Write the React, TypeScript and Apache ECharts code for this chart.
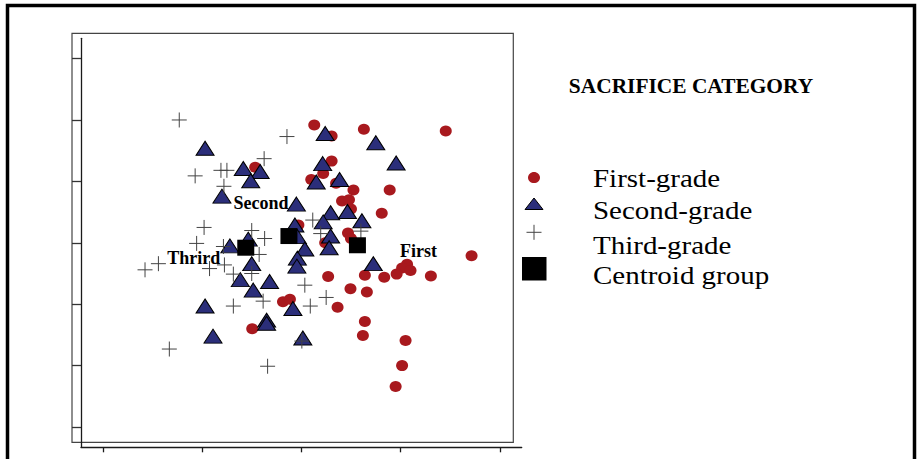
import React, { useEffect, useRef } from "react";
import * as echarts from "echarts";

// ---- data (discriminant function scores) ----
const firstGrade: [number, number][] = [
  [0.26, 1.92], [0.61, 1.74], [1.26, 1.85], [2.91, 1.82], [0.61, 1.33],
  [-0.93, 1.23], [0.44, 1.13], [0.2, 1.03], [0.7, 0.97], [1.05, 0.86],
  [1.78, 0.86], [0.82, 0.68], [0.96, 0.7], [1.0, 0.55], [1.62, 0.48],
  [-0.06, 0.29], [0.94, 0.16], [1.0, 0.07], [0.48, 0.0], [3.43, -0.21],
  [2.13, -0.35], [2.03, -0.41], [2.2, -0.45], [1.92, -0.51], [0.54, -0.55],
  [1.28, -0.53], [1.67, -0.56], [2.61, -0.54], [0.99, -0.75], [1.32, -0.8],
  [-0.37, -0.96], [-0.23, -0.92], [0.73, -1.05], [-0.99, -1.4], [1.28, -1.28],
  [1.24, -1.51], [2.1, -1.59], [2.03, -2.0], [1.9, -2.34],
];

const secondGrade: [number, number][] = [
  [-1.94, 1.54], [0.48, 1.78], [1.5, 1.63], [1.91, 1.3], [0.43, 1.29],
  [-1.17, 1.21], [-0.83, 1.16], [-1.02, 1.01], [0.3, 0.99], [0.77, 1.03],
  [-1.6, 0.76], [-0.1, 0.63], [0.59, 0.49], [0.93, 0.51], [1.22, 0.36],
  [0.44, 0.34], [-0.13, 0.29], [-0.08, 0.1], [0.59, 0.11], [0.56, -0.08],
  [0.07, -0.1], [-0.08, -0.25], [-0.09, -0.38], [1.45, -0.34], [-1.44, -0.05],
  [-1.07, 0.06], [-1.0, -0.34], [-1.23, -0.6], [-0.64, -0.63], [-0.97, -0.77],
  [-1.94, -1.03], [-0.17, -1.07], [-0.7, -1.26], [-0.7, -1.31], [-1.78, -1.52],
  [0.03, -1.55],
];

const thirdGrade: [number, number][] = [
  [-2.46, 2.0], [-0.29, 1.73], [-0.75, 1.37], [-2.14, 1.09], [-1.62, 1.18],
  [-1.5, 1.18], [-1.56, 0.92], [-1.96, 0.25], [-2.11, -0.01], [-1.0, 0.2],
  [-0.74, 0.07], [0.23, 0.37], [0.39, 0.15], [1.2, 0.19], [-3.15, -0.44],
  [-2.88, -0.34], [-1.85, -0.42], [-1.55, -0.36], [-1.37, -0.51], [-1.0, -0.5],
  [-0.85, -0.19], [-1.57, -0.06], [-1.37, -1.03], [-0.77, -0.95], [0.07, -0.69],
  [0.5, -0.89], [0.18, -1.03], [0.01, -1.6], [-2.66, -1.73], [-0.68, -2.01],
];

const centroidNames = ["Thrird", "Second", "First"];
const centroids: [number, number][] = [
  [-1.12, -0.08], [-0.25, 0.11], [1.13, -0.04],
];

const xTicks = [-4, -2, 0, 2, 4];
const yTicks = [-3, -2, -1, 0, 1, 2, 3];

const legendTitle = "SACRIFICE CATEGORY";
const legendNames = ["First-grade", "Second-grade", "Third-grade", "Centroid group"];

// ---- styles ----
const RED = "#a8191e";
const NAVY = "#2b2e7a";
const SERIF = "'Liberation Serif', 'Times New Roman', serif";
const labelOffsets: [number, number][] = [[-52, 10], [-28, -33], [61, 6]];

export default function App() {
  const ref = useRef<HTMLDivElement>(null);

  useEffect(() => {
    if (!ref.current) return;
    const chart = echarts.init(ref.current, undefined, { renderer: "svg" });

    const axisLine = { show: true, onZero: false, lineStyle: { color: "#1a1a1a", width: 1.3 } };

    const legendY = [177.9, 210.5, 245.2, 275.2];

    const option: any = {
      animation: false,
      backgroundColor: "#ffffff",
      grid: { left: 81, right: 399.3, top: 38.3, bottom: 11.7, containLabel: false },
      xAxis: {
        type: "value",
        min: -4.44,
        max: 4.44,
        axisLine,
        axisTick: { show: true, customValues: xTicks, length: 5, lineStyle: { color: "#1a1a1a", width: 1.3 } },
        axisLabel: { show: false },
        splitLine: { show: false },
      },
      yAxis: {
        type: "value",
        min: -3.33,
        max: 3.33,
        axisLine,
        axisTick: { show: true, customValues: yTicks, length: 9, lineStyle: { color: "#333", width: 1.3 } },
        axisLabel: { show: false },
        splitLine: { show: false },
      },
      series: [
        {
          name: legendNames[0],
          type: "scatter",
          symbol: "circle",
          symbolSize: [12, 11],
          itemStyle: { color: RED, opacity: 1 },
          data: firstGrade,
          silent: true,
        },
        {
          name: legendNames[1],
          type: "scatter",
          symbol: "triangle",
          symbolSize: [18, 14],
          itemStyle: { color: NAVY, borderColor: "#000", borderWidth: 1, opacity: 1 },
          data: secondGrade,
          silent: true,
        },
        {
          name: legendNames[2],
          type: "scatter",
          symbol: "path://M0,8L16,8M8,0L8,16",
          symbolSize: 15,
          itemStyle: { color: "rgba(0,0,0,0)", borderColor: "#444", borderWidth: 1, opacity: 1 },
          data: thirdGrade,
          silent: true,
        },
        {
          name: legendNames[3],
          type: "scatter",
          symbol: "rect",
          symbolSize: [17, 16],
          itemStyle: { color: "#000", opacity: 1 },
          silent: true,
          label: {
            show: true,
            position: "inside",
            formatter: (p: any) => p.name,
            fontFamily: SERIF,
            fontWeight: "bold",
            fontSize: 18,
            color: "#000",
          },
          data: centroids.map((c, i) => ({
            value: c,
            name: centroidNames[i],
            label: { offset: labelOffsets[i] },
          })),
        },
      ],
      graphic: [
        {
          type: "rect",
          z: 0,
          shape: { x: 7.5, y: 5.5, width: 907, height: 520 },
          style: { fill: "none", stroke: "#000", lineWidth: 3.5 },
          silent: true,
        },
        {
          type: "rect",
          z: 0,
          shape: { x: 72, y: 33.3, width: 441.3, height: 409 },
          style: { fill: "none", stroke: "#444", lineWidth: 1.2 },
          silent: true,
        },
        {
          type: "text",
          x: 691,
          y: 86.2,
          style: {
            text: legendTitle,
            font: `bold 21.4px ${SERIF}`,
            fill: "#000",
            align: "center",
            verticalAlign: "middle",
          },
        },
        {
          type: "ellipse",
          shape: { cx: 534, cy: 177.5, rx: 6, ry: 5.6 },
          style: { fill: RED },
        },
        {
          type: "polygon",
          shape: { points: [[525, 209.5], [543, 209.5], [534, 198]] },
          style: { fill: NAVY, stroke: "#000", lineWidth: 1 },
        },
        {
          type: "line",
          shape: { x1: 526.5, y1: 232.3, x2: 541.5, y2: 232.3 },
          style: { stroke: "#444", lineWidth: 1 },
        },
        {
          type: "line",
          shape: { x1: 534, y1: 224.8, x2: 534, y2: 239.8 },
          style: { stroke: "#444", lineWidth: 1 },
        },
        {
          type: "rect",
          shape: { x: 522, y: 257, width: 24.5, height: 23.5 },
          style: { fill: "#000" },
        },
        ...legendNames.map((n, i) => ({
          type: "text",
          x: 593,
          y: legendY[i],
          scaleX: 1.115,
          style: {
            text: n,
            font: `26px ${SERIF}`,
            fill: "#000",
            align: "left",
            verticalAlign: "middle",
          },
        })),
      ],
    };

    chart.setOption(option);
    return () => chart.dispose();
  }, []);

  return (
    <div
      ref={ref}
      style={{ position: "fixed", left: 0, top: 0, width: 921, height: 459, background: "#fff" }}
    />
  );
}
